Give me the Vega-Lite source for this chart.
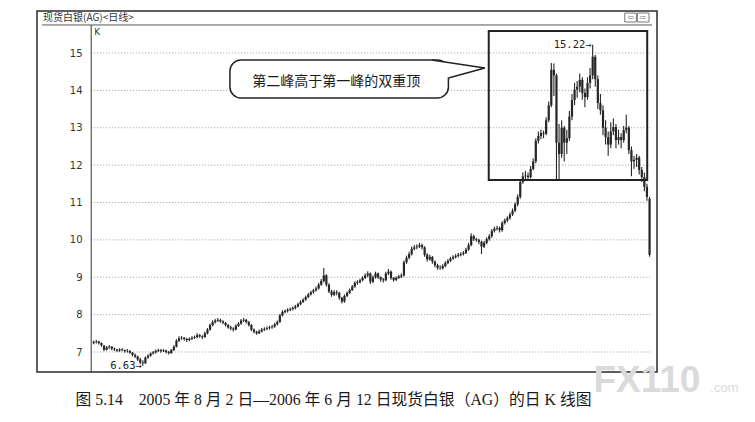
{
  "$schema": "https://vega.github.io/schema/vega-lite/v6.json",
  "width": 620,
  "height": 361,
  "autosize": "none",
  "padding": {"left": 37, "top": 11, "right": 98, "bottom": 50},
  "background": "white",
  "config": {"view": {"stroke": "#2a2a2a", "strokeWidth": 1.5}},
  "layer": [
    {
      "data": {"values": [{"g": 7}, {"g": 8}, {"g": 9}, {"g": 10}, {"g": 11}, {"g": 12}, {"g": 13}, {"g": 14}, {"g": 15}]},
      "mark": {"type": "rule", "color": "#9a9a9a", "strokeWidth": 1, "strokeDash": [1, 2]},
      "encoding": {
        "x": {"datum": -0.97, "type": "quantitative"},
        "x2": {"datum": 215.95},
        "y": {"field": "g", "type": "quantitative"}
      }
    },
    {
      "data": {"values": [{}]},
      "mark": {"type": "rule", "color": "#555", "strokeWidth": 1},
      "encoding": {
        "x": {"datum": -20, "type": "quantitative"},
        "x2": {"datum": 215.95},
        "y": {"datum": 15.75, "type": "quantitative"}
      }
    },
    {
      "data": {"values": [{}]},
      "mark": {"type": "rule", "color": "#333", "strokeWidth": 1},
      "encoding": {
        "x": {"datum": -0.97, "type": "quantitative"},
        "y": {"datum": 6.465, "type": "quantitative"},
        "y2": {"datum": 15.75}
      }
    },
    {
      "data": {"values": [{"a": 205.4, "b": 209.9}, {"a": 210.3, "b": 214.8}]},
      "mark": {"type": "rect", "fill": null, "fillOpacity": 0, "stroke": "#777", "strokeWidth": 1},
      "encoding": {
        "x": {"field": "a", "type": "quantitative"},
        "x2": {"field": "b"},
        "y": {"datum": 15.83, "type": "quantitative"},
        "y2": {"datum": 16.07}
      }
    },
    {
      "data": {"values": [{"a": 207.65, "t": "⇦"}, {"a": 212.55, "t": "⇨"}]},
      "mark": {"type": "text", "align": "center", "baseline": "middle", "font": "DejaVu Sans", "fontSize": 8, "color": "#777"},
      "encoding": {
        "x": {"field": "a", "type": "quantitative"},
        "y": {"datum": 15.95, "type": "quantitative"},
        "text": {"field": "t"}
      }
    },
    {
      "data": {"values": [{}]},
      "mark": {"type": "text", "text": "现货白银(AG)<日线>", "align": "left", "baseline": "middle", "font": "Noto Sans CJK SC", "fontSize": 10, "color": "#333"},
      "encoding": {
        "x": {"datum": -19.6, "type": "quantitative"},
        "y": {"datum": 15.93, "type": "quantitative"}
      }
    },
    {
      "data": {"values": [{}]},
      "mark": {"type": "text", "text": "K", "align": "left", "baseline": "middle", "font": "DejaVu Sans", "fontSize": 9, "color": "#333"},
      "encoding": {
        "x": {"datum": 0.2, "type": "quantitative"},
        "y": {"datum": 15.56, "type": "quantitative"}
      }
    },
    {
      "data": {"values": [
        {"i":0,"o":7.24,"h":7.31,"l":7.21,"c":7.27},{"i":1,"o":7.27,"h":7.32,"l":7.23,"c":7.28},{"i":2,"o":7.28,"h":7.30,"l":7.20,"c":7.24},{"i":3,"o":7.24,"h":7.26,"l":7.14,"c":7.18},
        {"i":4,"o":7.17,"h":7.19,"l":7.02,"c":7.06},{"i":5,"o":7.06,"h":7.16,"l":7.04,"c":7.12},{"i":6,"o":7.12,"h":7.19,"l":7.09,"c":7.14},{"i":7,"o":7.14,"h":7.16,"l":7.05,"c":7.09},
        {"i":8,"o":7.09,"h":7.12,"l":7.03,"c":7.07},{"i":9,"o":7.07,"h":7.09,"l":7.00,"c":7.04},{"i":10,"o":7.04,"h":7.10,"l":7.01,"c":7.07},{"i":11,"o":7.07,"h":7.10,"l":7.02,"c":7.05},
        {"i":12,"o":7.05,"h":7.07,"l":6.98,"c":7.02},{"i":13,"o":7.02,"h":7.08,"l":6.99,"c":7.03},{"i":14,"o":7.03,"h":7.05,"l":6.95,"c":6.98},{"i":15,"o":6.98,"h":7.00,"l":6.88,"c":6.92},
        {"i":16,"o":6.92,"h":6.96,"l":6.84,"c":6.88},{"i":17,"o":6.88,"h":6.90,"l":6.76,"c":6.80},{"i":18,"o":6.80,"h":6.84,"l":6.68,"c":6.72},{"i":19,"o":6.72,"h":6.78,"l":6.63,"c":6.70},
        {"i":20,"o":6.70,"h":6.88,"l":6.68,"c":6.85},{"i":21,"o":6.85,"h":6.94,"l":6.82,"c":6.90},{"i":22,"o":6.90,"h":6.99,"l":6.87,"c":6.96},{"i":23,"o":6.96,"h":7.03,"l":6.93,"c":6.99},
        {"i":24,"o":6.99,"h":7.07,"l":6.96,"c":7.03},{"i":25,"o":7.03,"h":7.09,"l":7.00,"c":7.05},{"i":26,"o":7.05,"h":7.08,"l":6.98,"c":7.02},{"i":27,"o":7.02,"h":7.08,"l":7.00,"c":7.04},
        {"i":28,"o":7.04,"h":7.06,"l":6.96,"c":7.00},{"i":29,"o":7.00,"h":7.03,"l":6.93,"c":6.97},{"i":30,"o":6.97,"h":7.08,"l":6.95,"c":7.05},{"i":31,"o":7.05,"h":7.18,"l":7.03,"c":7.14},
        {"i":32,"o":7.14,"h":7.34,"l":7.12,"c":7.30},{"i":33,"o":7.30,"h":7.42,"l":7.27,"c":7.37},{"i":34,"o":7.37,"h":7.43,"l":7.33,"c":7.38},{"i":35,"o":7.38,"h":7.40,"l":7.30,"c":7.35},
        {"i":36,"o":7.35,"h":7.38,"l":7.27,"c":7.32},{"i":37,"o":7.32,"h":7.39,"l":7.29,"c":7.35},{"i":38,"o":7.35,"h":7.42,"l":7.32,"c":7.38},{"i":39,"o":7.38,"h":7.44,"l":7.35,"c":7.40},
        {"i":40,"o":7.40,"h":7.50,"l":7.37,"c":7.45},{"i":41,"o":7.45,"h":7.48,"l":7.38,"c":7.42},{"i":42,"o":7.42,"h":7.45,"l":7.35,"c":7.40},{"i":43,"o":7.40,"h":7.54,"l":7.38,"c":7.50},
        {"i":44,"o":7.50,"h":7.64,"l":7.47,"c":7.60},{"i":45,"o":7.60,"h":7.76,"l":7.57,"c":7.72},{"i":46,"o":7.72,"h":7.85,"l":7.69,"c":7.80},{"i":47,"o":7.80,"h":7.88,"l":7.76,"c":7.84},
        {"i":48,"o":7.84,"h":7.91,"l":7.80,"c":7.86},{"i":49,"o":7.86,"h":7.89,"l":7.78,"c":7.82},{"i":50,"o":7.82,"h":7.85,"l":7.74,"c":7.78},{"i":51,"o":7.78,"h":7.80,"l":7.68,"c":7.72},
        {"i":52,"o":7.72,"h":7.75,"l":7.62,"c":7.66},{"i":53,"o":7.66,"h":7.70,"l":7.58,"c":7.63},{"i":54,"o":7.63,"h":7.66,"l":7.55,"c":7.60},{"i":55,"o":7.60,"h":7.74,"l":7.58,"c":7.70},
        {"i":56,"o":7.70,"h":7.80,"l":7.67,"c":7.76},{"i":57,"o":7.76,"h":7.88,"l":7.73,"c":7.84},{"i":58,"o":7.84,"h":7.91,"l":7.80,"c":7.86},{"i":59,"o":7.86,"h":7.88,"l":7.76,"c":7.80},
        {"i":60,"o":7.80,"h":7.83,"l":7.68,"c":7.72},{"i":61,"o":7.72,"h":7.75,"l":7.56,"c":7.60},{"i":62,"o":7.60,"h":7.63,"l":7.50,"c":7.54},{"i":63,"o":7.54,"h":7.57,"l":7.46,"c":7.50},
        {"i":64,"o":7.50,"h":7.60,"l":7.48,"c":7.55},{"i":65,"o":7.55,"h":7.64,"l":7.52,"c":7.60},{"i":66,"o":7.60,"h":7.66,"l":7.56,"c":7.62},{"i":67,"o":7.62,"h":7.68,"l":7.58,"c":7.64},
        {"i":68,"o":7.64,"h":7.70,"l":7.60,"c":7.66},{"i":69,"o":7.66,"h":7.72,"l":7.62,"c":7.68},{"i":70,"o":7.68,"h":7.78,"l":7.65,"c":7.74},{"i":71,"o":7.74,"h":7.84,"l":7.71,"c":7.80},
        {"i":72,"o":7.80,"h":8.02,"l":7.78,"c":7.98},{"i":73,"o":7.98,"h":8.12,"l":7.95,"c":8.07},{"i":74,"o":8.07,"h":8.14,"l":8.03,"c":8.10},{"i":75,"o":8.10,"h":8.17,"l":8.06,"c":8.13},
        {"i":76,"o":8.13,"h":8.19,"l":8.09,"c":8.15},{"i":77,"o":8.15,"h":8.22,"l":8.11,"c":8.18},{"i":78,"o":8.18,"h":8.26,"l":8.14,"c":8.22},{"i":79,"o":8.22,"h":8.32,"l":8.19,"c":8.28},
        {"i":80,"o":8.28,"h":8.38,"l":8.25,"c":8.34},{"i":81,"o":8.34,"h":8.44,"l":8.31,"c":8.40},{"i":82,"o":8.40,"h":8.51,"l":8.37,"c":8.47},{"i":83,"o":8.47,"h":8.58,"l":8.44,"c":8.54},
        {"i":84,"o":8.54,"h":8.64,"l":8.51,"c":8.60},{"i":85,"o":8.60,"h":8.69,"l":8.56,"c":8.65},{"i":86,"o":8.65,"h":8.75,"l":8.62,"c":8.70},{"i":87,"o":8.70,"h":8.85,"l":8.67,"c":8.80},
        {"i":88,"o":8.80,"h":8.95,"l":8.77,"c":8.90},{"i":89,"o":8.90,"h":9.25,"l":8.86,"c":9.05},{"i":90,"o":9.05,"h":9.08,"l":8.75,"c":8.80},{"i":91,"o":8.80,"h":8.84,"l":8.58,"c":8.62},
        {"i":92,"o":8.62,"h":8.66,"l":8.48,"c":8.53},{"i":93,"o":8.53,"h":8.66,"l":8.50,"c":8.60},{"i":94,"o":8.60,"h":8.65,"l":8.52,"c":8.58},{"i":95,"o":8.58,"h":8.61,"l":8.40,"c":8.45},
        {"i":96,"o":8.45,"h":8.48,"l":8.30,"c":8.35},{"i":97,"o":8.35,"h":8.54,"l":8.32,"c":8.50},{"i":98,"o":8.50,"h":8.62,"l":8.47,"c":8.58},{"i":99,"o":8.58,"h":8.70,"l":8.55,"c":8.66},
        {"i":100,"o":8.66,"h":8.79,"l":8.63,"c":8.75},{"i":101,"o":8.75,"h":8.89,"l":8.72,"c":8.85},{"i":102,"o":8.85,"h":8.92,"l":8.80,"c":8.87},{"i":103,"o":8.87,"h":8.96,"l":8.83,"c":8.92},
        {"i":104,"o":8.92,"h":9.03,"l":8.89,"c":8.98},{"i":105,"o":8.98,"h":9.10,"l":8.95,"c":9.05},{"i":106,"o":9.05,"h":9.16,"l":9.01,"c":9.10},{"i":107,"o":9.10,"h":9.13,"l":8.82,"c":8.88},
        {"i":108,"o":8.88,"h":9.05,"l":8.84,"c":9.00},{"i":109,"o":9.00,"h":9.15,"l":8.96,"c":9.10},{"i":110,"o":9.10,"h":9.13,"l":8.95,"c":9.00},{"i":111,"o":9.00,"h":9.03,"l":8.88,"c":8.94},
        {"i":112,"o":8.94,"h":8.98,"l":8.86,"c":8.92},{"i":113,"o":8.92,"h":9.15,"l":8.89,"c":9.10},{"i":114,"o":9.10,"h":9.22,"l":9.06,"c":9.15},{"i":115,"o":9.15,"h":9.18,"l":8.93,"c":8.98},
        {"i":116,"o":8.98,"h":9.01,"l":8.88,"c":8.93},{"i":117,"o":8.93,"h":9.03,"l":8.90,"c":8.98},{"i":118,"o":8.98,"h":9.07,"l":8.95,"c":9.02},{"i":119,"o":9.02,"h":9.10,"l":8.98,"c":9.05},
        {"i":120,"o":9.05,"h":9.45,"l":9.02,"c":9.40},{"i":121,"o":9.40,"h":9.58,"l":9.36,"c":9.52},{"i":122,"o":9.52,"h":9.68,"l":9.48,"c":9.62},{"i":123,"o":9.62,"h":9.82,"l":9.58,"c":9.76},
        {"i":124,"o":9.76,"h":9.86,"l":9.72,"c":9.80},{"i":125,"o":9.80,"h":9.88,"l":9.75,"c":9.82},{"i":126,"o":9.82,"h":9.92,"l":9.78,"c":9.86},{"i":127,"o":9.86,"h":9.90,"l":9.74,"c":9.80},
        {"i":128,"o":9.80,"h":9.83,"l":9.55,"c":9.60},{"i":129,"o":9.60,"h":9.64,"l":9.42,"c":9.48},{"i":130,"o":9.48,"h":9.60,"l":9.44,"c":9.54},{"i":131,"o":9.54,"h":9.57,"l":9.36,"c":9.42},
        {"i":132,"o":9.42,"h":9.45,"l":9.27,"c":9.32},{"i":133,"o":9.32,"h":9.36,"l":9.20,"c":9.25},{"i":134,"o":9.25,"h":9.32,"l":9.20,"c":9.24},{"i":135,"o":9.24,"h":9.35,"l":9.21,"c":9.30},
        {"i":136,"o":9.30,"h":9.43,"l":9.27,"c":9.38},{"i":137,"o":9.38,"h":9.49,"l":9.35,"c":9.44},{"i":138,"o":9.44,"h":9.55,"l":9.41,"c":9.50},{"i":139,"o":9.50,"h":9.59,"l":9.47,"c":9.54},
        {"i":140,"o":9.54,"h":9.62,"l":9.50,"c":9.57},{"i":141,"o":9.57,"h":9.65,"l":9.53,"c":9.60},{"i":142,"o":9.60,"h":9.67,"l":9.56,"c":9.62},{"i":143,"o":9.62,"h":9.70,"l":9.58,"c":9.65},
        {"i":144,"o":9.65,"h":9.79,"l":9.62,"c":9.74},{"i":145,"o":9.74,"h":9.92,"l":9.71,"c":9.86},{"i":146,"o":9.86,"h":10.18,"l":9.83,"c":10.10},{"i":147,"o":10.10,"h":10.14,"l":9.97,"c":10.02},
        {"i":148,"o":10.02,"h":10.06,"l":9.95,"c":10.00},{"i":149,"o":10.00,"h":10.03,"l":9.88,"c":9.95},{"i":150,"o":9.95,"h":9.98,"l":9.62,"c":9.82},{"i":151,"o":9.82,"h":9.97,"l":9.78,"c":9.92},
        {"i":152,"o":9.92,"h":10.07,"l":9.88,"c":10.02},{"i":153,"o":10.02,"h":10.15,"l":9.98,"c":10.10},{"i":154,"o":10.10,"h":10.29,"l":10.06,"c":10.24},{"i":155,"o":10.24,"h":10.35,"l":10.20,"c":10.30},
        {"i":156,"o":10.30,"h":10.38,"l":10.25,"c":10.32},{"i":157,"o":10.32,"h":10.36,"l":10.20,"c":10.26},{"i":158,"o":10.26,"h":10.50,"l":10.22,"c":10.45},{"i":159,"o":10.45,"h":10.57,"l":10.41,"c":10.52},
        {"i":160,"o":10.52,"h":10.63,"l":10.48,"c":10.58},{"i":161,"o":10.58,"h":10.73,"l":10.54,"c":10.68},{"i":162,"o":10.68,"h":10.84,"l":10.64,"c":10.78},{"i":163,"o":10.78,"h":11.00,"l":10.74,"c":10.95},
        {"i":164,"o":10.95,"h":11.22,"l":10.90,"c":11.15},{"i":165,"o":11.15,"h":11.62,"l":11.10,"c":11.55},{"i":166,"o":11.55,"h":11.80,"l":11.50,"c":11.70},{"i":167,"o":11.70,"h":11.85,"l":11.60,"c":11.72},
        {"i":168,"o":11.72,"h":11.80,"l":11.58,"c":11.68},{"i":169,"o":11.68,"h":11.98,"l":11.64,"c":11.90},{"i":170,"o":11.90,"h":12.18,"l":11.86,"c":12.10},{"i":171,"o":12.10,"h":12.72,"l":12.05,"c":12.65},
        {"i":172,"o":12.65,"h":12.90,"l":12.58,"c":12.78},{"i":173,"o":12.78,"h":12.95,"l":12.70,"c":12.86},{"i":174,"o":12.86,"h":12.92,"l":12.72,"c":12.84},{"i":175,"o":12.84,"h":13.28,"l":12.80,"c":13.20},
        {"i":176,"o":13.20,"h":13.70,"l":13.15,"c":13.60},{"i":177,"o":13.60,"h":14.73,"l":13.55,"c":14.55},{"i":178,"o":14.55,"h":14.72,"l":13.85,"c":14.40},{"i":179,"o":14.40,"h":14.45,"l":11.60,"c":12.60},
        {"i":180,"o":12.60,"h":13.10,"l":11.62,"c":12.30},{"i":181,"o":12.30,"h":13.20,"l":12.20,"c":13.00},{"i":182,"o":13.00,"h":13.05,"l":12.10,"c":12.60},{"i":183,"o":12.60,"h":12.95,"l":12.30,"c":12.72},
        {"i":184,"o":12.72,"h":13.45,"l":12.65,"c":13.30},{"i":185,"o":13.30,"h":13.90,"l":13.20,"c":13.74},{"i":186,"o":13.74,"h":14.20,"l":13.60,"c":14.02},{"i":187,"o":14.02,"h":14.25,"l":13.80,"c":14.10},
        {"i":188,"o":14.10,"h":14.45,"l":13.95,"c":14.28},{"i":189,"o":14.28,"h":14.35,"l":13.75,"c":13.93},{"i":190,"o":13.93,"h":14.05,"l":13.55,"c":13.82},{"i":191,"o":13.82,"h":14.35,"l":13.75,"c":14.20},
        {"i":192,"o":14.20,"h":14.60,"l":14.05,"c":14.40},{"i":193,"o":14.40,"h":15.22,"l":14.30,"c":14.90},{"i":194,"o":14.90,"h":14.95,"l":14.10,"c":14.30},{"i":195,"o":14.30,"h":14.40,"l":13.50,"c":13.66},
        {"i":196,"o":13.66,"h":13.90,"l":13.35,"c":13.47},{"i":197,"o":13.47,"h":13.60,"l":12.80,"c":13.00},{"i":198,"o":13.00,"h":13.20,"l":12.55,"c":12.75},{"i":199,"o":12.75,"h":12.90,"l":12.25,"c":12.55},
        {"i":200,"o":12.55,"h":13.15,"l":12.45,"c":12.90},{"i":201,"o":12.90,"h":13.25,"l":12.80,"c":13.02},{"i":202,"o":13.02,"h":13.10,"l":12.45,"c":12.67},{"i":203,"o":12.67,"h":12.95,"l":12.55,"c":12.75},
        {"i":204,"o":12.75,"h":12.85,"l":12.45,"c":12.67},{"i":205,"o":12.67,"h":13.05,"l":12.60,"c":12.94},{"i":206,"o":12.94,"h":13.35,"l":12.85,"c":13.00},{"i":207,"o":13.00,"h":13.05,"l":12.30,"c":12.40},
        {"i":208,"o":12.40,"h":12.50,"l":11.70,"c":12.10},{"i":209,"o":12.10,"h":12.25,"l":11.90,"c":12.14},{"i":210,"o":12.14,"h":12.30,"l":11.95,"c":12.20},{"i":211,"o":12.20,"h":12.25,"l":11.75,"c":11.87},
        {"i":212,"o":11.87,"h":11.95,"l":11.55,"c":11.68},{"i":213,"o":11.68,"h":11.80,"l":11.30,"c":11.42},{"i":214,"o":11.42,"h":11.50,"l":11.05,"c":11.15},{"i":215,"o":11.10,"h":11.15,"l":9.55,"c":9.60}
      ]},
      "layer": [
        {
          "mark": {"type": "rule", "color": "#262626", "strokeWidth": 1.1},
          "encoding": {
            "x": {
              "field": "i", "type": "quantitative",
              "scale": {"domain": [-20, 215.95], "nice": false, "zero": false},
              "axis": {
                "orient": "bottom", "labels": false, "ticks": false, "domain": false, "grid": false,
                "title": "图 5.14　2005 年 8 月 2 日—2006 年 6 月 12 日现货白银（AG）的日 K 线图",
                "titleFont": "Liberation Serif, Noto Sans CJK SC", "titleFontSize": 15.8, "titleFontWeight": "normal",
                "titleColor": "#1a1a1a", "titleAlign": "left", "titleAnchor": "start", "titleX": 38, "titleY": 32,
                "titleBaseline": "alphabetic"
              }
            },
            "y": {
              "field": "l", "type": "quantitative",
              "scale": {"domain": [6.465, 16.124], "nice": false, "zero": false},
              "axis": {
                "orient": "left", "offset": -50, "values": [7, 8, 9, 10, 11, 12, 13, 14, 15],
                "ticks": false, "tickSize": 0, "domain": false, "grid": false, "labelPadding": 5,
                "labelFont": "DejaVu Sans", "labelFontSize": 10, "labelColor": "#333", "title": null
              }
            },
            "y2": {"field": "h"}
          }
        },
        {
          "mark": {"type": "bar", "size": 2.2, "color": "#262626"},
          "encoding": {
            "x": {"field": "i", "type": "quantitative"},
            "y": {"field": "o", "type": "quantitative"},
            "y2": {"field": "c"}
          }
        }
      ]
    },
    {
      "data": {"values": [{}]},
      "mark": {"type": "rect", "fill": null, "fillOpacity": 0, "stroke": "#222", "strokeWidth": 2},
      "encoding": {
        "x": {"datum": 152.8, "type": "quantitative"},
        "x2": {"datum": 214.1},
        "y": {"datum": 11.6, "type": "quantitative"},
        "y2": {"datum": 15.59}
      }
    },
    {
      "data": {"values": [{}]},
      "mark": {"type": "rect", "fill": "white", "stroke": "#222", "strokeWidth": 1.5, "cornerRadius": 11},
      "encoding": {
        "x": {"datum": 52.7, "type": "quantitative"},
        "x2": {"datum": 137.2},
        "y": {"datum": 13.796, "type": "quantitative"},
        "y2": {"datum": 14.813}
      }
    },
    {
      "data": {"values": [{"k": 1, "a": 130.74, "b": 14.813}, {"k": 2, "a": 151.3, "b": 14.599}, {"k": 3, "a": 137.2, "b": 14.331}, {"k": 4, "a": 130.74, "b": 14.813}]},
      "mark": {"type": "line", "fill": "white", "stroke": "white", "strokeWidth": 0},
      "encoding": {
        "x": {"field": "a", "type": "quantitative"},
        "y": {"field": "b", "type": "quantitative"},
        "order": {"field": "k"}
      }
    },
    {
      "data": {"values": [{"k": 1, "a": 130.74, "b": 14.813}, {"k": 2, "a": 151.3, "b": 14.599}, {"k": 3, "a": 137.2, "b": 14.331}]},
      "mark": {"type": "line", "color": "#222", "strokeWidth": 1.5},
      "encoding": {
        "x": {"field": "a", "type": "quantitative"},
        "y": {"field": "b", "type": "quantitative"},
        "order": {"field": "k"}
      }
    },
    {
      "data": {"values": [{}]},
      "mark": {"type": "text", "text": "第二峰高于第一峰的双重顶", "align": "center", "baseline": "middle", "font": "Noto Sans CJK SC", "fontSize": 14, "color": "#1a1a1a"},
      "encoding": {
        "x": {"datum": 93.8, "type": "quantitative"},
        "y": {"datum": 14.22, "type": "quantitative"}
      }
    },
    {
      "data": {"values": [{"i": 193, "v": 15.22, "t": "15.22→"}, {"i": 19, "v": 6.63, "t": "6.63→"}]},
      "mark": {"type": "text", "align": "right", "baseline": "middle", "dx": -1, "font": "DejaVu Sans Mono", "fontSize": 10.5, "color": "#222"},
      "encoding": {
        "x": {"field": "i", "type": "quantitative"},
        "y": {"field": "v", "type": "quantitative"},
        "text": {"field": "t"}
      }
    },
    {
      "data": {"values": [{}]},
      "mark": {"type": "text", "text": "FX110", "align": "left", "baseline": "alphabetic", "font": "Liberation Sans", "fontWeight": "bold", "fontSize": 37, "color": "#dadada"},
      "encoding": {
        "x": {"datum": 193.3, "type": "quantitative"},
        "y": {"datum": 5.93, "type": "quantitative"}
      }
    },
    {
      "data": {"values": [{}]},
      "mark": {"type": "text", "text": ".com", "align": "left", "baseline": "alphabetic", "font": "Liberation Sans", "fontSize": 13, "color": "#dadada"},
      "encoding": {
        "x": {"datum": 238.5, "type": "quantitative"},
        "y": {"datum": 5.93, "type": "quantitative"}
      }
    }
  ]
}
